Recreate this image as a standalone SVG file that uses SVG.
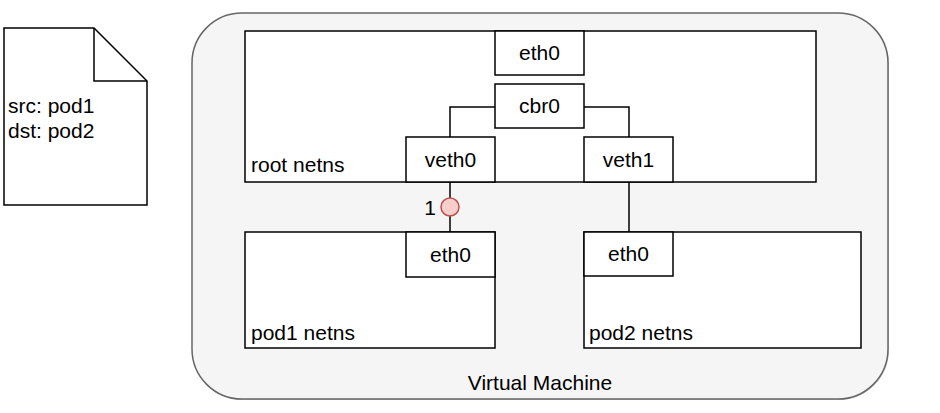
<svg xmlns="http://www.w3.org/2000/svg" width="940" height="413" viewBox="0 0 940 413">
<style>
text{font-family:"Liberation Sans",Arial,Helvetica,sans-serif;font-size:21px;fill:#000}
.box{fill:#fff;stroke:#000;stroke-width:1.5}
.c{text-anchor:middle}
.ln{fill:none;stroke:#000;stroke-width:1.5}
</style>
<rect width="940" height="413" fill="#fff"/>
<g id="packet">
<path d="M4,28 H94 L147,81 V205 H4 Z" class="box"/>
<path d="M94,28 V81 H147" class="ln"/>
<text x="8" y="113">src: pod1</text>
<text x="8" y="138">dst: pod2</text>
</g>
<g id="vm">
<rect x="193" y="14" width="696" height="386" rx="50" fill="#999" opacity="0.5"/>
<rect x="192" y="13" width="696" height="386" rx="50" fill="#f5f5f5" stroke="#666" stroke-width="1.5"/>
<text x="540" y="390" class="c">Virtual Machine</text>
</g>
<g id="root-netns">
<rect x="245" y="31" width="571" height="151" class="box"/>
<text x="251" y="172">root netns</text>
</g>
<g id="pod1-netns">
<rect x="245" y="232" width="250" height="116" class="box"/>
<text x="251" y="340">pod1 netns</text>
</g>
<g id="pod2-netns">
<rect x="584" y="232" width="277" height="116" class="box"/>
<text x="589" y="340">pod2 netns</text>
</g>
<g id="connectors">
<path d="M495,107 H450 V137" class="ln"/>
<path d="M584,107 H629 V137" class="ln"/>
<path d="M450,182 V232" class="ln"/>
<path d="M629,182 V232" class="ln"/>
</g>
<g id="eth0-root">
<rect x="495" y="31" width="89" height="44" class="box"/>
<text x="539.5" y="60" class="c">eth0</text>
</g>
<g id="cbr0">
<rect x="495" y="84" width="89" height="44" class="box"/>
<text x="539.5" y="113" class="c">cbr0</text>
</g>
<g id="veth0">
<rect x="406" y="137" width="89" height="45" class="box"/>
<text x="450.5" y="167" class="c">veth0</text>
</g>
<g id="veth1">
<rect x="584" y="137" width="89" height="45" class="box"/>
<text x="628.5" y="167" class="c">veth1</text>
</g>
<g id="eth0-pod1">
<rect x="406" y="232" width="89" height="45" class="box"/>
<text x="450.5" y="262" class="c">eth0</text>
</g>
<g id="eth0-pod2">
<rect x="584" y="232" width="89" height="44" class="box"/>
<text x="628.5" y="261" class="c">eth0</text>
</g>
<g id="step1">
<circle cx="450" cy="207" r="9" fill="#f8cecc" stroke="#b85450" stroke-width="1.5"/>
<text x="430" y="215" class="c">1</text>
</g>
</svg>
